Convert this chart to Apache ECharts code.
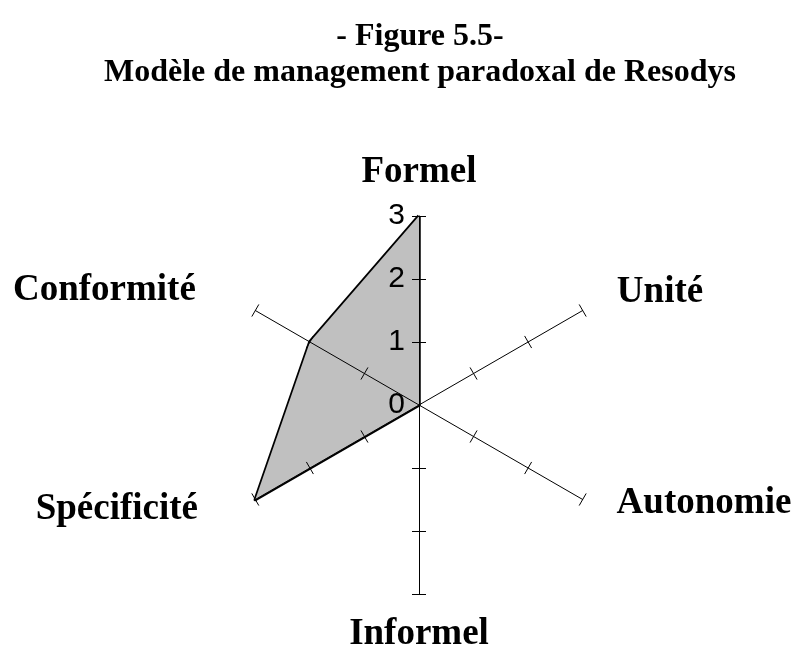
<!DOCTYPE html>
<html>
<head>
<meta charset="utf-8">
<script src="https://cdn.jsdelivr.net/npm/echarts@6/dist/echarts.min.js"></script>
<style>
  html, body { margin: 0; padding: 0; background: #fff; }
  #chart { width: 795px; height: 649px; }
</style>
</head>
<body>
<div id="chart"></div>
<script>
// axes from the top going round to the left (echarts goes counterclockwise)
let axisNames = ["Formel", "Conformité", "Spécificité", "Informel", "Autonomie", "Unité"],
  scores = [3, 2, 3, 0, 0, 0],
  tickValues = [1, 2, 3],
  labelValues = [0, 1, 2, 3],
  axisMax = 3;

// nudges so the names sit where the figure has them
// (vertical padding is ignored for middle aligned text, so the gap does that part)
let nameGaps = {
  "Formel": 22, "Conformité": 41, "Spécificité": 20,
  "Informel": 22, "Autonomie": 8, "Unité": 36
};
let namePadding = {
  "Formel": [0, 0, 3, 0],
  "Conformité": [0, 24, 0, 0],
  "Spécificité": [0, 40, 0, 0],
  "Informel": [0, 0, 0, 0],
  "Autonomie": [0, 0, 0, 27],
  "Unité": [0, 0, 0, 3]
};

let serif = "'Liberation Serif', 'Times New Roman', serif";
let sans = "'Liberation Sans', Arial, sans-serif";

function makeIndicators(withLabels) {
  return axisNames.map((name, i) => {
    let ind = { name: name, min: 0, max: axisMax };
    if (withLabels) {
      ind.nameGap = nameGaps[name];
      ind.nameTextStyle = { padding: namePadding[name] };
      if (i === 0) {
        ind.axisLabel = {
          show: true,
          customValues: labelValues,
          color: "#000",
          fontFamily: sans,
          fontSize: 30,
          margin: 14
        };
      }
    }
    return ind;
  });
}

let radarBase = {
  center: [419, 405],
  radius: 189,
  startAngle: 90,
  splitNumber: axisMax,
  shape: "polygon",
  splitLine: { show: false },
  splitArea: { show: false }
};

let chart = echarts.init(document.getElementById("chart"));
chart.setOption({
  animation: false,
  title: {
    text: "- Figure 5.5-\nModèle de management paradoxal de Resodys",
    left: 415,
    textAlign: "center",
    top: 14,
    textStyle: {
      fontFamily: serif,
      fontWeight: "bold",
      fontSize: 32,
      lineHeight: 36,
      color: "#000"
    }
  },
  radar: [
    Object.assign({}, radarBase, {
      z: 5,
      indicator: makeIndicators(true),
      axisName: {
        color: "#000",
        fontFamily: serif,
        fontWeight: "bold",
        fontSize: 37
      },
      nameGap: 22,
      axisLine: { lineStyle: { color: "#000", width: 1 } },
      axisTick: {
        show: true,
        length: 7,
        customValues: tickValues,
        lineStyle: { color: "#000", width: 1 }
      },
      axisLabel: { show: false }
    }),
    // second copy only draws the other half of each tick
    Object.assign({}, radarBase, {
      z: 5,
      indicator: makeIndicators(false),
      axisName: { show: false },
      axisLine: { show: false },
      axisTick: {
        show: true,
        length: -7,
        customValues: tickValues,
        lineStyle: { color: "#000", width: 1 }
      },
      axisLabel: { show: false }
    })
  ],
  series: [{
    type: "radar",
    radarIndex: 0,
    symbol: "none",
    data: [{
      value: scores,
      name: "Resodys",
      lineStyle: { color: "#000", width: 3.5 },
      areaStyle: { color: "#c0c0c0", opacity: 1 }
    }]
  }]
});
</script>
</body>
</html>
